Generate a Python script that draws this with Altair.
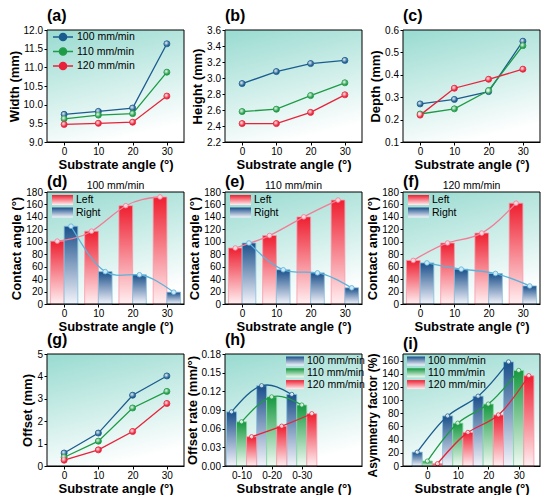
import altair as alt
import pandas as pd

FONT = "Liberation Sans"
W, H = 137, 112

# ---------------- data ----------------
angles = [0, 10, 20, 30]
angle_ticks = [0, 10, 20, 30]
speeds = ["100 mm/min", "110 mm/min", "120 mm/min"]
speed_colors = ["#1b5c8f", "#1e9b46", "#e8223a"]

width_100 = [9.74, 9.82, 9.91, 11.63]
width_110 = [9.62, 9.72, 9.76, 10.87]
width_120 = [9.47, 9.50, 9.53, 10.23]
width_ticks = [9.0, 9.5, 10.0, 10.5, 11.0, 11.5, 12.0]

height_100 = [2.93, 3.08, 3.18, 3.22]
height_110 = [2.58, 2.61, 2.78, 2.94]
height_120 = [2.43, 2.43, 2.57, 2.79]
height_ticks = [2.2, 2.4, 2.6, 2.8, 3.0, 3.2, 3.4, 3.6]

depth_100 = [0.27, 0.29, 0.325, 0.55]
depth_110 = [0.225, 0.248, 0.33, 0.53]
depth_120 = [0.22, 0.34, 0.38, 0.425]
depth_ticks = [0.1, 0.2, 0.3, 0.4, 0.5, 0.6]

offset_100 = [0.58, 1.47, 3.16, 4.02]
offset_110 = [0.39, 1.11, 2.59, 3.33]
offset_120 = [0.26, 0.72, 1.54, 2.79]
offset_ticks = [0, 1, 2, 3, 4, 5]

contact_left_100 = [101, 117, 158, 172]
contact_right_100 = [125, 52, 47, 19]
contact_left_110 = [90, 110, 140, 167]
contact_right_110 = [98, 55, 50, 26]
contact_left_120 = [70, 98, 114, 162]
contact_right_120 = [66, 56, 49, 29]
contact_ticks = [0, 20, 40, 60, 80, 100, 120, 140, 160, 180]

rate_ranges = ["0-10", "0-20", "0-30"]
rate_idx = [1, 2, 3]
rate_100 = [0.087, 0.129, 0.115]
rate_110 = [0.071, 0.111, 0.098]
rate_120 = [0.047, 0.064, 0.084]
rate_ticks = [0.0, 0.03, 0.06, 0.09, 0.12, 0.15, 0.18]

asym_100 = [21, 76, 106, 158]
asym_110 = [7.5, 65, 94, 145]
asym_120 = [3.5, 51, 77.5, 137]
asym_ticks = [0, 20, 40, 60, 80, 100, 120, 140, 160]

# ---------------- styles ----------------
BAR_TOPS = ["#1a4f8a", "#16983f", "#ee1f30"]
BAR_BOTS = ["#f4f4fb", "#f2fbf4", "#fff0f2"]
BAR_EDGES = ["#86bfe0", "#86d9a0", "#f69aac"]
LEFT_LINE, LEFT_PT = "#f27c95", "#fbd3db"
RIGHT_LINE, RIGHT_PT = "#5db2da", "#cde9f6"


def vgrad(top, bot, x1=0, y1=0, x2=0, y2=1):
    return alt.LinearGradient(
        gradient="linear",
        stops=[alt.GradientStop(color=top, offset=0),
               alt.GradientStop(color=bot, offset=1)],
        x1=x1, y1=y1, x2=x2, y2=y2)


HIGHLIGHT = alt.RadialGradient(
    gradient="radial",
    stops=[alt.GradientStop(color="rgba(255,255,255,0.95)", offset=0),
           alt.GradientStop(color="rgba(255,255,255,0)", offset=1)],
    x1=0.38, y1=0.35, r1=0, x2=0.38, y2=0.35, r2=0.55)

LEG_PATH = ("M-2,0L-0.72,0M0.72,0L2,0M0.72,0A0.72,0.72,0,1,1,-0.72,0"
            "A0.72,0.72,0,1,1,0.72,0Z")

one = pd.DataFrame({"k": [0]})


def background():
    return alt.Chart(one).mark_rect(
        fill=vgrad("#9cdcd2", "#ffffff", 0.15, 0, 0.45, 1)
    ).encode(x=alt.value(0), x2=alt.value(W), y=alt.value(0), y2=alt.value(H))


def frame():
    return alt.Chart(one).mark_rect(
        fillOpacity=0, stroke="black", strokeWidth=1
    ).encode(x=alt.value(0), x2=alt.value(W), y=alt.value(0), y2=alt.value(H))


def yaxis(title, ticks, fmt, dom=None, title_size=None, title_dy=0):
    d = dom if dom else [ticks[0], ticks[-1]]
    extra = {}
    if title_size:
        extra["titleFontSize"] = title_size
    if title_dy:
        extra["titleY"] = H / 2 + title_dy
    return (alt.Scale(domain=d, nice=False, zero=False),
            alt.Axis(title=title, values=ticks, format=fmt, **extra))


ANGLE_SCALE = alt.Scale(domain=[-5, 35], nice=False, zero=False)
ANGLE_AXIS = alt.Axis(title="Substrate angle (°)", values=angle_ticks, format="d")


def line_panel(label, ytitle, series, ticks, fmt):
    rows = []
    for s, vals in zip(speeds, series):
        for a, v in zip(angles, vals):
            rows.append({"angle": a, "value": v, "speed": s})
    df = pd.DataFrame(rows)
    ysc, yax = yaxis(ytitle, ticks, fmt)
    x = alt.X("angle:Q", scale=ANGLE_SCALE, axis=ANGLE_AXIS)
    y = alt.Y("value:Q", scale=ysc, axis=yax)
    csc = alt.Scale(domain=speeds, range=speed_colors)
    leg = alt.Legend(title=None, orient="none", legendX=10, legendY=1,
                     symbolType=LEG_PATH, symbolSize=100, symbolStrokeWidth=1.4,
                     labelFont=FONT, labelFontSize=10.5, labelOffset=8,
                     rowPadding=0.5, padding=0)
    base = alt.Chart(df)
    line = base.mark_line(strokeWidth=1.3).encode(
        x=x, y=y, stroke=alt.Stroke("speed:N", scale=csc, legend=leg))
    pts = base.mark_point(filled=True, size=36, strokeWidth=0.9, opacity=1).encode(
        x=x, y=y,
        fill=alt.Fill("speed:N", scale=csc, legend=leg),
        stroke=alt.Stroke("speed:N", scale=csc, legend=leg))
    hl = base.mark_point(filled=True, fill=HIGHLIGHT, strokeWidth=0, size=30,
                         opacity=1).encode(x=x, y=y)
    return alt.layer(background(), line, pts, hl, frame()).properties(
        width=W, height=H, title=alt.TitleParams(text=label))


def swatch_legend(names, tops, bots, x0, y0, sw, sh, dy):
    layers = []
    for i, (n, t, b) in enumerate(zip(names, tops, bots)):
        d = pd.DataFrame({"name": [n]})
        yc = y0 + i * dy
        layers.append(alt.Chart(d).mark_rect(fill=vgrad(t, b)).encode(
            x=alt.value(x0), x2=alt.value(x0 + sw),
            y=alt.value(yc - sh / 2), y2=alt.value(yc + sh / 2)))
        layers.append(alt.Chart(d).mark_text(
            align="left", baseline="middle", font=FONT, fontSize=10.5,
            color="black").encode(
            x=alt.value(x0 + sw + 3), y=alt.value(yc), text="name:N"))
    return layers


def contact_panel(label, sub, left, right):
    ysc, yax = yaxis("Contact angle (°)", contact_ticks, "d")
    layers = [background()]
    specs = [("Left", left, "datum.angle - 4", "datum.angle", "datum.angle - 2",
              BAR_TOPS[2], BAR_BOTS[2], BAR_EDGES[2], LEFT_LINE, LEFT_PT),
             ("Right", right, "datum.angle", "datum.angle + 4", "datum.angle + 2",
              BAR_TOPS[0], BAR_BOTS[0], BAR_EDGES[0], RIGHT_LINE, RIGHT_PT)]
    for side, vals, e0, e1, ec, top, bot, edge, lc, pc in specs:
        df = pd.DataFrame({"angle": angles, "value": vals, "base": [0] * 4})
        base = alt.Chart(df).transform_calculate(x0=e0, x1=e1, xc=ec)
        layers.append(base.mark_rect(fill=vgrad(top, bot), stroke=edge,
                                     strokeWidth=0.8).encode(
            x=alt.X("x0:Q", scale=ANGLE_SCALE, axis=ANGLE_AXIS),
            x2=alt.X2("x1"),
            y=alt.Y("value:Q", scale=ysc, axis=yax),
            y2=alt.Y2("base")))
    for side, vals, e0, e1, ec, top, bot, edge, lc, pc in specs:
        df = pd.DataFrame({"angle": angles, "value": vals})
        base = alt.Chart(df).transform_calculate(xc=ec)
        enc = dict(x=alt.X("xc:Q", scale=ANGLE_SCALE, axis=ANGLE_AXIS),
                   y=alt.Y("value:Q", scale=ysc, axis=yax))
        layers.append(base.mark_line(interpolate="natural", stroke=lc,
                                     strokeWidth=1.3).encode(**enc))
        layers.append(base.mark_point(filled=True, size=22, fill=pc, stroke=lc,
                                      strokeWidth=0.8, opacity=1).encode(**enc))
    layers += swatch_legend(["Left", "Right"], [BAR_TOPS[2], BAR_TOPS[0]],
                            [BAR_BOTS[2], BAR_BOTS[0]], 5, 8, 21, 10, 12.5)
    # panel label and speed caption, on the same line above the plot
    layers.append(alt.Chart(pd.DataFrame({"t": [label]})).mark_text(
        font=FONT, fontSize=16, fontWeight="bold", color="black",
        align="left", baseline="middle").encode(
        x=alt.value(0), y=alt.value(-10), text="t:N"))
    layers.append(alt.Chart(pd.DataFrame({"t": [sub]})).mark_text(
        font=FONT, fontSize=10.5, color="black", baseline="middle").encode(
        x=alt.value(W / 2), y=alt.value(-6), text="t:N"))
    layers.append(frame())
    return alt.layer(*layers).properties(width=W, height=H)


def grouped_panel(label, ytitle, xfield, xvals, series, xscale, xaxis, half,
                  ticks, fmt, dom, leg_x, title_size=None, title_dy=0):
    ysc, yax = yaxis(ytitle, ticks, fmt, dom, title_size, title_dy)
    layers = [background()]
    step = 2 * half / 3
    for k, vals in enumerate(series):
        df = pd.DataFrame({xfield: xvals, "value": vals, "base": [0] * len(vals)})
        base = alt.Chart(df).transform_calculate(
            x0=f"datum.{xfield} - {half} + {k} * {step}",
            x1=f"datum.{xfield} - {half} + {k + 1} * {step}")
        layers.append(base.mark_rect(fill=vgrad(BAR_TOPS[k], BAR_BOTS[k]),
                                     stroke=BAR_EDGES[k], strokeWidth=0.8).encode(
            x=alt.X("x0:Q", scale=xscale, axis=xaxis), x2=alt.X2("x1"),
            y=alt.Y("value:Q", scale=ysc, axis=yax), y2=alt.Y2("base")))
    for k, vals in enumerate(series):
        df = pd.DataFrame({xfield: xvals, "value": vals})
        base = alt.Chart(df).transform_calculate(
            xc=f"datum.{xfield} - {half} + {k + 0.5} * {step}")
        enc = dict(x=alt.X("xc:Q", scale=xscale, axis=xaxis),
                   y=alt.Y("value:Q", scale=ysc, axis=yax))
        layers.append(base.mark_line(interpolate="natural",
                                     stroke=speed_colors[k],
                                     strokeWidth=1.3).encode(**enc))
        layers.append(base.mark_point(filled=True, size=18, fill="#ffffff",
                                      fillOpacity=0.75, stroke=speed_colors[k],
                                      strokeWidth=0.8, opacity=1).encode(**enc))
    layers += swatch_legend(speeds, BAR_TOPS, BAR_BOTS, leg_x, 7, 18, 9, 11.8)
    layers.append(frame())
    return alt.layer(*layers).properties(width=W, height=H,
                                         title=alt.TitleParams(text=label))


rate_label_expr = ("[" + ",".join(f"'{r}'" for r in rate_ranges) +
                   "][datum.value - 1]")
RATE_SCALE = alt.Scale(domain=[0.45, 5.0], nice=False, zero=False)
RATE_AXIS = alt.Axis(title="Substrate angle (°)", values=rate_idx,
                     labelExpr=rate_label_expr)
ASYM_SCALE = alt.Scale(domain=[-8, 37], nice=False, zero=False)

pa = line_panel("(a)", "Width (mm)", [width_100, width_110, width_120],
                width_ticks, ".1f")
pb = line_panel("(b)", "Height (mm)", [height_100, height_110, height_120],
                height_ticks, ".1f")
pc = line_panel("(c)", "Depth (mm)", [depth_100, depth_110, depth_120],
                depth_ticks, ".1f")
pd_ = contact_panel("(d)", speeds[0], contact_left_100, contact_right_100)
pe = contact_panel("(e)", speeds[1], contact_left_110, contact_right_110)
pf = contact_panel("(f)", speeds[2], contact_left_120, contact_right_120)
pg = line_panel("(g)", "Offset (mm)", [offset_100, offset_110, offset_120],
                offset_ticks, "d")
ph = grouped_panel("(h)", "Offset rate (mm/°)", "idx", rate_idx,
                   [rate_100, rate_110, rate_120], RATE_SCALE, RATE_AXIS, 0.5,
                   rate_ticks, ".2f", None, W - 76)
pi = grouped_panel("(i)", "Asymmetry factor (%)", "angle", angles,
                   [asym_100, asym_110, asym_120], ASYM_SCALE, ANGLE_AXIS, 5,
                   asym_ticks, "d", [0, 170], 4, title_size=12, title_dy=5)

chart = alt.concat(pa, pb, pc, pd_, pe, pf, pg, ph, pi, columns=3,
                   spacing={"row": 50, "column": 41}, bounds="flush"
                   ).properties(padding=0).configure(
    font=FONT, background="white"
).configure_view(stroke=None).configure_axis(
    labelFont=FONT, labelFontSize=10, labelColor="black",
    titleFont=FONT, titleFontSize=13, titleFontWeight="bold", titleColor="black",
    domainColor="black", tickColor="black", tickSize=3, labelPadding=1.5,
    grid=False, zindex=1
).configure_axisX(titlePadding=1.5).configure_axisY(titlePadding=2).configure_title(
    font=FONT, fontSize=16, fontWeight="bold", anchor="start", frame="group",
    offset=1, color="black"
).configure_legend(labelColor="black")

chart.save("out.html", embed_options={"renderer": "svg", "actions": False})
